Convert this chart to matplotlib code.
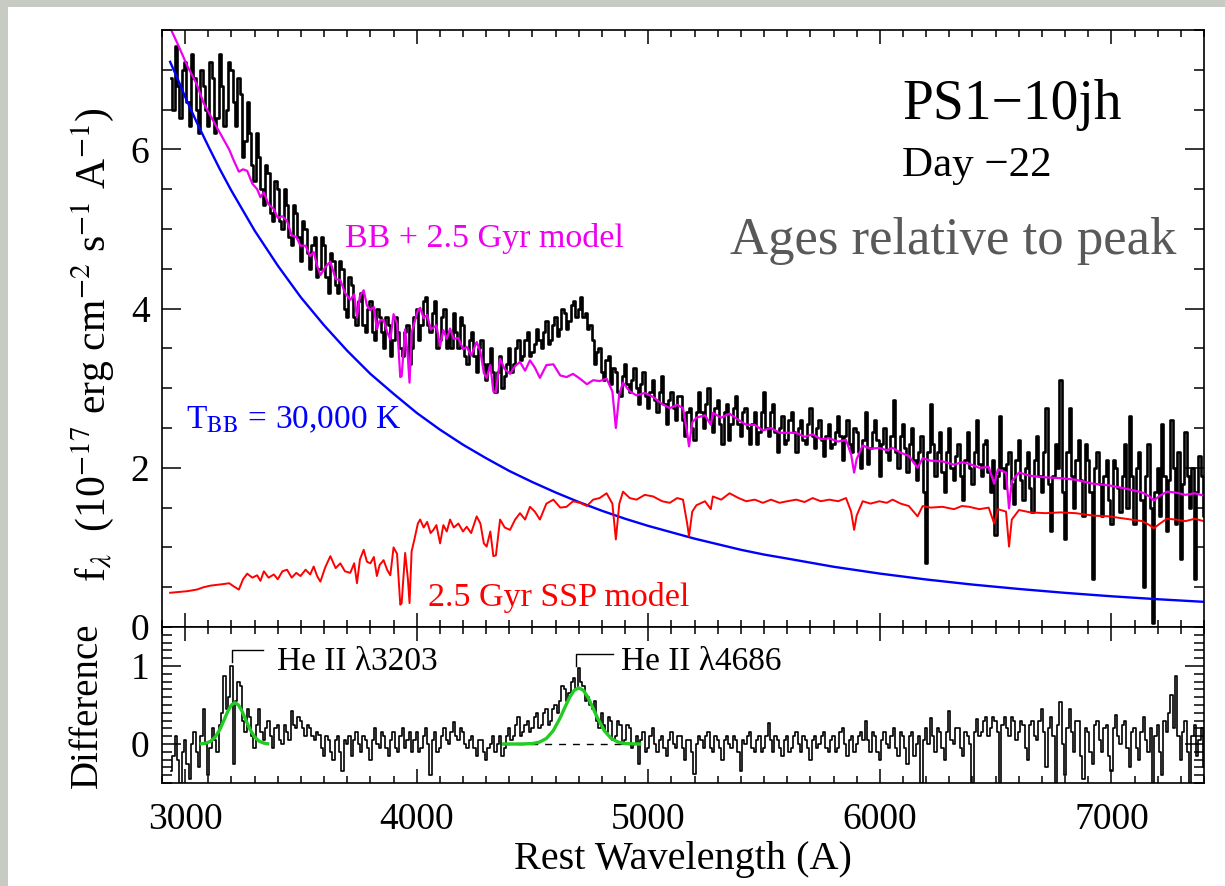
import numpy as np
import matplotlib
matplotlib.use('Agg')
import matplotlib.pyplot as plt
import matplotlib.transforms as mtransforms
from matplotlib.ticker import MultipleLocator
from matplotlib.patches import Rectangle

plt.rcParams['font.family'] = ['Liberation Serif', 'DejaVu Serif']
plt.rcParams['mathtext.fontset'] = 'stix'

# observed spectrum and difference, 10 A bins from 2940 to 7400
wave = np.arange(2940, 7401, 10)
obs_flux = [
    6.9, 6.5, 7.3, 6.8, 6.4, 7.0, 7.1, 6.6, 6.3, 7.2, 6.9, 6.5, 6.2, 7.0, 6.8, 6.5, 6.3, 7.1, 6.9, 6.2,
    6.4, 7.2, 6.8, 6.3, 6.5, 7.1, 7.0, 6.6, 6.3, 6.9, 6.7, 5.9, 6.1, 6.6, 6.2, 5.8, 5.6, 6.2, 5.9, 5.5,
    5.3, 5.8, 5.7, 5.2, 5.1, 5.6, 5.5, 5.1, 5.0, 5.5, 5.3, 4.9, 4.8, 5.3, 5.2, 4.9, 4.6, 5.1, 5.0, 4.7,
    4.5, 4.8, 4.9, 4.4, 4.5, 4.9, 4.8, 4.4, 4.2, 4.7, 4.6, 4.3, 4.2, 4.6, 4.5, 4.0, 3.9, 4.4, 4.3, 3.9,
    3.8, 4.1, 4.2, 3.8, 3.7, 4.0, 4.1, 3.7, 3.6, 4.0, 3.9, 3.7, 3.5, 3.9, 3.8, 3.4, 3.6, 3.9, 3.7, 3.5,
    3.4, 3.7, 3.8, 3.3, 3.5, 3.9, 4.0, 3.6, 3.8, 4.1, 4.15, 3.8, 3.7, 3.95, 4.1, 3.5, 3.6, 3.9, 4.0, 3.5,
    3.7, 3.5, 3.95, 3.7, 3.5, 3.9, 3.8, 3.4, 3.3, 3.6, 3.7, 3.4, 3.2, 3.5, 3.6, 3.3, 3.1, 3.3, 3.5, 3.2,
    2.95, 3.2, 3.4, 3.0, 3.15, 3.3, 3.5, 3.2, 3.3, 3.5, 3.6, 3.35, 3.4, 3.6, 3.7, 3.4, 3.45, 3.55, 3.75, 3.6,
    3.5, 3.7, 3.85, 3.55, 3.6, 3.8, 3.9, 3.65, 3.75, 4.0, 3.95, 3.75, 3.85, 4.05, 4.1, 3.9, 4.0, 4.15, 3.9, 3.95,
    3.75, 3.8, 3.6, 3.3, 3.45, 3.5, 3.2, 3.1, 3.35, 3.4, 3.05, 3.25, 3.2, 2.95, 2.9, 3.15, 3.3, 3.05, 2.95, 3.1,
    3.25, 3.0, 2.8, 3.05, 3.2, 2.9, 2.75, 2.95, 3.1, 2.85, 2.7, 2.95, 3.15, 2.8, 2.55, 2.85, 2.95, 2.75, 2.6, 2.9,
    2.9, 2.6, 2.4, 2.7, 2.75, 2.5, 2.35, 2.7, 2.95, 2.7, 2.5, 2.8, 3.0, 2.6, 2.45, 2.75, 2.85, 2.55, 2.3, 2.7,
    2.8, 2.35, 2.55, 2.75, 2.9, 2.55, 2.4, 2.7, 2.75, 2.5, 2.3, 2.55, 2.7, 2.3, 2.45, 2.7, 2.95, 2.5, 2.4, 2.7,
    2.8, 2.45, 2.2, 2.5, 2.65, 2.3, 2.35, 2.6, 2.7, 2.45, 2.2, 2.5, 2.6, 2.35, 2.3, 2.55, 2.75, 2.4, 2.25, 2.5,
    2.6, 2.35, 2.15, 2.4, 2.55, 2.25, 2.3, 2.45, 2.65, 2.4, 2.1, 2.4, 2.6, 2.3, 2.2, 2.5, 2.45, 2.2, 2.0, 2.35,
    2.7, 2.05, 2.25, 2.45, 2.6, 2.35, 1.9, 2.3, 2.5, 2.2, 2.1, 2.4, 2.85, 2.2, 2.0, 2.4, 2.55, 2.25, 1.95, 2.3,
    2.5, 2.1, 1.85, 2.2, 2.4, 1.7, 0.8, 2.2, 2.8, 2.3, 1.9, 2.2, 2.45, 1.95, 1.7, 2.2, 2.5, 2.0, 1.85, 2.15,
    2.3, 1.9, 1.6, 2.1, 2.45, 2.0, 1.8, 2.2, 2.6, 2.05, 1.9, 2.3, 2.35, 1.95, 1.7, 2.1, 1.15, 1.9, 2.65, 2.0,
    1.75, 2.05, 2.2, 1.8, 1.55, 2.1, 2.35, 1.85, 1.6, 2.0, 2.2, 1.75, 1.45, 2.1, 2.4, 1.9, 1.7, 2.2, 2.75, 1.8,
    1.2, 1.9, 2.3, 2.0, 3.1, 1.7, 1.1, 2.2, 2.75, 1.9, 1.5, 2.1, 2.35, 1.85, 1.4, 2.3, 2.1, 1.7, 0.6, 2.0,
    2.2, 1.8, 1.4, 1.9, 2.1, 1.6, 1.3, 2.1, 2.0, 1.75, 1.45, 1.9, 2.3, 1.5, 2.65, 1.9, 1.3, 2.0, 2.2, 1.6,
    0.5, 1.9, 2.3, 1.5, 0.05, 1.7, 2.0, 1.4, 2.55, 1.9, 1.2, 1.85, 2.6, 2.0, 1.3, 2.2, 0.85, 1.8, 2.45, 1.9,
    1.5, 2.0, 0.6, 1.7, 2.15, 1.9, 1.4,
]
diff_flux = [
    -0.35, -0.15, 0.10, -0.20, -0.50, -0.10, 0.05, -0.25, -0.45, 0.00, 0.15, -0.10, -0.30, 0.10, 0.45, 0.00, -0.40, -0.05, 0.20, 0.05,
    -0.10, 0.25, 0.40, 0.87, 0.45, 0.60, 1.00, -0.25, 0.55, 0.80, 0.75, 0.30, 0.15, 0.45, 0.35, 0.10, -0.05, 0.25, 0.45, 0.15,
    0.05, 0.20, 0.30, 0.10, -0.05, 0.20, 0.25, 0.05, 0.00, 0.25, 0.15, 0.05, 0.42, 0.25, 0.20, 0.35, 0.30, 0.20, 0.10, 0.25,
    0.20, 0.10, 0.05, 0.15, 0.12, -0.05, -0.15, 0.10, 0.05, -0.10, -0.20, 0.05, 0.10, -0.10, -0.35, 0.05, 0.00, 0.10, -0.15, 0.05,
    0.15, 0.00, -0.10, 0.10, 0.05, -0.05, -0.20, 0.05, 0.20, 0.00, -0.05, 0.15, 0.10, -0.05, -0.15, 0.05, 0.15, -0.05, -0.10, 0.10,
    0.20, -0.05, 0.05, 0.15, -0.10, 0.05, 0.15, -0.10, -0.05, 0.10, 0.20, 0.00, -0.40, 0.05, 0.15, -0.10, -0.05, 0.10, 0.20, 0.05,
    0.00, 0.15, 0.28, 0.10, 0.05, 0.20, 0.15, 0.00, -0.05, 0.05, 0.10, -0.05, -0.15, 0.05, 0.05, -0.10, -0.20, -0.05, 0.00, 0.10,
    -0.10, 0.00, 0.10, -0.15, -0.05, 0.10, 0.20, 0.05, 0.10, 0.25, 0.35, 0.10, 0.15, 0.25, 0.30, 0.15, 0.20, 0.35, 0.40, 0.20,
    0.25, 0.40, 0.45, 0.25, 0.30, 0.45, 0.50, 0.40, 0.55, 0.75, 0.70, 0.55, 0.65, 0.80, 0.85, 0.70, 0.97, 0.80, 0.75, 0.55,
    0.60, 0.50, 0.45, 0.55, 0.30, 0.20, 0.40, 0.25, 0.15, 0.35, 0.30, 0.05, 0.10, 0.30, 0.25, 0.00, 0.05, 0.25, 0.20, -0.05,
    0.00, 0.10, -0.25, 0.05, 0.15, -0.10, -0.05, 0.10, 0.20, 0.00, -0.10, 0.05, 0.10, -0.05, -0.15, 0.05, 0.15, 0.00, -0.05, 0.10,
    0.10, -0.05, -0.20, 0.05, 0.05, -0.10, -0.38, 0.00, 0.10, 0.05, -0.05, 0.10, 0.15, -0.05, -0.10, 0.10, 0.05, -0.05, -0.20, 0.05,
    0.10, 0.00, -0.05, 0.10, 0.05, -0.10, -0.35, 0.05, 0.00, 0.10, 0.15, -0.05, -0.10, 0.05, 0.10, -0.10, -0.05, 0.10, 0.27, 0.05,
    -0.10, 0.10, 0.05, -0.05, -0.15, 0.05, 0.10, -0.10, -0.05, 0.10, 0.15, 0.00, -0.10, 0.10, 0.05, -0.05, -0.20, 0.05, 0.10, -0.05,
    0.00, 0.10, 0.15, -0.05, -0.10, 0.05, 0.10, -0.10, -0.05, 0.15, 0.20, 0.00, -0.15, 0.05, 0.10, -0.10, 0.00, 0.10, 0.15, 0.05,
    0.29, 0.05, -0.10, 0.15, 0.10, -0.10, -0.20, 0.05, 0.15, 0.00, -0.05, 0.10, 0.20, -0.05, -0.15, 0.15, 0.10, -0.05, -0.25, 0.10,
    0.15, -0.15, 0.00, 0.10, -0.50, 0.05, 0.20, 0.00, 0.33, 0.10, -0.10, 0.20, 0.15, -0.05, -0.20, 0.15, 0.42, 0.05, 0.00, 0.20,
    0.20, -0.05, -0.15, 0.15, 0.10, 0.00, -0.50, 0.15, 0.32, 0.10, 0.15, 0.30, 0.35, 0.10, 0.20, 0.35, 0.30, 0.15, -0.50, 0.25,
    0.35, 0.20, 0.10, 0.35, 0.30, 0.05, 0.15, 0.30, 0.25, -0.05, -0.20, 0.25, 0.30, 0.10, 0.05, 0.30, 0.45, 0.15, -0.30, 0.20,
    0.35, 0.10, -0.50, 0.25, 0.54, 0.00, -0.40, 0.20, 0.45, 0.15, -0.10, 0.30, 0.30, -0.15, -0.45, 0.20, 0.15, -0.10, -0.25, 0.25,
    0.30, 0.05, -0.10, 0.20, 0.25, -0.15, -0.35, 0.20, 0.37, 0.10, 0.00, 0.25, 0.30, -0.05, -0.30, 0.15, 0.20, -0.05, -0.20, 0.15,
    0.35, 0.05, -0.10, 0.20, -0.50, 0.10, 0.25, -0.10, -0.40, 0.30, 0.15, 0.40, 0.63, 0.20, 0.87, 0.10, -0.20, 0.15, 0.30, -0.10,
    -0.50, 0.10, 0.25, -0.15, 0.05, 0.20, -0.30,
]

# 2.5 Gyr SSP model and BB + SSP model
model_wave = [
    2935, 2970, 3009, 3050, 3080, 3110, 3140, 3167, 3190, 3210,
    3232, 3250, 3268, 3290, 3311, 3325, 3340, 3360, 3383, 3400,
    3420, 3440, 3460, 3480, 3498, 3520, 3540, 3555, 3570, 3584,
    3605, 3627, 3650, 3670, 3690, 3713, 3730, 3742, 3755, 3771,
    3785, 3800, 3815, 3828, 3840, 3857, 3872, 3886, 3900, 3915,
    3929, 3935, 3950, 3962, 3969, 3978, 3990, 4005, 4015, 4030,
    4045, 4060, 4072, 4085, 4101, 4115, 4130, 4144, 4160, 4180,
    4200, 4216, 4235, 4259, 4275, 4290, 4302, 4318, 4331, 4342,
    4360, 4380, 4403, 4425, 4446, 4468, 4489, 4510, 4532, 4560,
    4590, 4620, 4647, 4675, 4705, 4735, 4762, 4790, 4820, 4845,
    4860, 4875, 4891, 4920, 4949, 4985, 5021, 5060, 5093, 5125,
    5150, 5168, 5176, 5190, 5208, 5245, 5270, 5279, 5315, 5351,
    5390, 5423, 5460, 5495, 5530, 5567, 5600, 5639, 5675, 5710,
    5745, 5782, 5820, 5854, 5876, 5889, 5900, 5926, 5960, 5998,
    6030, 6055, 6090, 6125, 6163, 6185, 6220, 6271, 6320, 6355,
    6386, 6430, 6470, 6494, 6510, 6545, 6558, 6570, 6601, 6650,
    6716, 6780, 6846, 6920, 6989, 7060, 7133, 7165, 7183, 7210,
    7240, 7277, 7320, 7360, 7399,
]
ssp_flux = [
    0.43, 0.44, 0.45, 0.47, 0.50, 0.52, 0.53, 0.54, 0.55, 0.51,
    0.47, 0.60, 0.67, 0.62, 0.65, 0.58, 0.70, 0.62, 0.66, 0.60,
    0.70, 0.72, 0.62, 0.68, 0.64, 0.72, 0.66, 0.76, 0.64, 0.57,
    0.75, 0.89, 0.74, 0.80, 0.70, 0.68, 0.80, 0.55, 0.85, 0.97,
    0.82, 0.80, 0.88, 0.64, 0.78, 0.84, 0.72, 0.65, 1.00, 0.92,
    0.28, 0.30, 0.93, 0.60, 0.30, 0.95, 1.10, 1.30, 1.35, 1.25,
    1.32, 1.18, 1.22, 1.28, 1.05, 1.28, 1.20, 1.35, 1.25, 1.30,
    1.20, 1.26, 1.18, 1.39, 1.30, 1.05, 1.01, 1.20, 0.89, 0.90,
    1.35, 1.25, 1.22, 1.35, 1.43, 1.35, 1.51, 1.45, 1.35, 1.55,
    1.60, 1.50, 1.51, 1.58, 1.56, 1.52, 1.60, 1.62, 1.68, 1.55,
    1.10, 1.55, 1.70, 1.62, 1.60, 1.66, 1.64, 1.58, 1.56, 1.62,
    1.60, 1.30, 1.14, 1.45, 1.53, 1.58, 1.48, 1.64, 1.60, 1.68,
    1.62, 1.58, 1.60, 1.56, 1.60, 1.56, 1.58, 1.60, 1.57, 1.62,
    1.58, 1.60, 1.58, 1.62, 1.45, 1.22, 1.40, 1.58, 1.55, 1.58,
    1.56, 1.60, 1.55, 1.52, 1.39, 1.52, 1.50, 1.51, 1.48, 1.52,
    1.51, 1.48, 1.50, 1.30, 1.48, 1.45, 1.01, 1.35, 1.47, 1.44,
    1.43, 1.44, 1.43, 1.40, 1.39, 1.36, 1.33, 1.28, 1.24, 1.30,
    1.36, 1.35, 1.33, 1.36, 1.33,
]
model_flux = [
    7.53, 7.31, 7.05, 6.82, 6.58, 6.42, 6.26, 6.12, 6.00, 5.86,
    5.72, 5.75, 5.73, 5.57, 5.50, 5.40, 5.46, 5.31, 5.25, 5.14,
    5.16, 5.10, 4.92, 4.90, 4.79, 4.79, 4.66, 4.71, 4.54, 4.42,
    4.52, 4.59, 4.37, 4.36, 4.20, 4.11, 4.18, 3.89, 4.16, 4.23,
    4.04, 3.98, 4.02, 3.74, 3.85, 3.86, 3.71, 3.61, 3.93, 3.81,
    3.14, 3.15, 3.74, 3.38, 3.07, 3.70, 3.82, 3.98, 4.01, 3.88,
    3.92, 3.74, 3.76, 3.79, 3.53, 3.73, 3.62, 3.75, 3.62, 3.63,
    3.49, 3.52, 3.41, 3.58, 3.46, 3.19, 3.13, 3.29, 2.96, 2.95,
    3.37, 3.24, 3.18, 3.28, 3.33, 3.22, 3.35, 3.26, 3.13, 3.29,
    3.30, 3.16, 3.14, 3.18, 3.12, 3.05, 3.10, 3.09, 3.12, 2.96,
    2.50, 2.93, 3.07, 2.96, 2.91, 2.94, 2.89, 2.80, 2.75, 2.79,
    2.75, 2.44, 2.27, 2.57, 2.63, 2.66, 2.54, 2.69, 2.63, 2.68,
    2.60, 2.54, 2.54, 2.47, 2.50, 2.44, 2.44, 2.44, 2.39, 2.42,
    2.36, 2.37, 2.33, 2.35, 2.17, 1.94, 2.11, 2.28, 2.24, 2.25,
    2.22, 2.25, 2.19, 2.15, 2.00, 2.12, 2.09, 2.08, 2.04, 2.07,
    2.05, 2.00, 2.01, 1.80, 1.98, 1.94, 1.49, 1.83, 1.94, 1.90,
    1.88, 1.87, 1.85, 1.80, 1.78, 1.74, 1.69, 1.64, 1.59, 1.65,
    1.70, 1.69, 1.66, 1.68, 1.65,
]

# 30,000 K blackbody
bb_wave = [2935, 2970, 3000, 3050, 3100, 3150, 3200, 3300, 3400, 3500,
           3600, 3700, 3800, 3900, 4000, 4100, 4200, 4300, 4400, 4500,
           4600, 4700, 4800, 4900, 5000, 5100, 5200, 5300, 5400, 5500,
           5600, 5800, 6000, 6200, 6400, 6600, 6800, 7000, 7200, 7400]
bb_flux = [7.10, 6.87, 6.66, 6.34, 6.04, 5.75, 5.48, 4.98, 4.54, 4.14,
           3.79, 3.47, 3.18, 2.93, 2.69, 2.48, 2.29, 2.12, 1.96, 1.82,
           1.69, 1.57, 1.46, 1.36, 1.27, 1.19, 1.11, 1.04, 0.97, 0.91,
           0.86, 0.757, 0.671, 0.597, 0.533, 0.478, 0.429, 0.386, 0.349, 0.316]

# gaussian fits to the He II lines
fit1_wave = [3070, 3090, 3110, 3130, 3150, 3170, 3185, 3200, 3215, 3230,
             3245, 3260, 3280, 3300, 3320, 3340, 3356]
fit1_flux = [0.003, 0.011, 0.035, 0.089, 0.187, 0.32, 0.425, 0.50, 0.53, 0.50,
             0.425, 0.32, 0.187, 0.089, 0.035, 0.011, 0.004]
fit2_wave = [4375, 4420, 4460, 4500, 4530, 4560, 4590, 4620, 4640, 4660,
             4680, 4700, 4720, 4740, 4760, 4780, 4810, 4840, 4870, 4900,
             4940, 4963]
fit2_flux = [0.0, 0.0, 0.001, 0.006, 0.024, 0.071, 0.172, 0.338, 0.47, 0.596,
             0.687, 0.72, 0.687, 0.596, 0.47, 0.338, 0.172, 0.071, 0.024, 0.006,
             0.001, 0.0]

W, H = 1225, 886
fig = plt.figure(figsize=(W / 100, H / 100), dpi=100)
fig.patch.set_facecolor('#c8cbc4')
fig.add_artist(Rectangle((8 / W, 0), 1, 1 - 7 / H, transform=fig.transFigure,
                         facecolor='white', edgecolor='none', zorder=-10))

ax1 = fig.add_axes([162 / W, 1 - 627 / H, 1042 / W, 597 / H])
ax2 = fig.add_axes([162 / W, 1 - 783 / H, 1042 / W, 156 / H])

MAG = '#ee00ee'
BLUE = '#0000ff'
RED = '#ff0000'

ax1.plot(wave, obs_flux, color='black', lw=1.9, drawstyle='steps-mid')
ax1.plot(model_wave, model_flux, color=MAG, lw=1.6)
ax1.plot(bb_wave, bb_flux, color=BLUE, lw=1.7)
ax1.plot(model_wave, ssp_flux, color=RED, lw=1.4)

ax1.text(3692, 4.77, 'BB + 2.5 Gyr model', color=MAG, fontsize=24.5)
ax1.text(3002, 2.50, r'T$_{\rm BB}$ = 30,000 K', color=BLUE, fontsize=24)
ax1.text(4050, 0.26, '2.5 Gyr SSP model', color=RED, fontsize=24.5)
ax1.text(6097, 6.38, 'PS1\u221210jh', fontsize=40)
ax1.text(6097, 5.67, 'Day \u221222', fontsize=31)
ax1.text(5351, 4.69, 'Ages relative to peak', color='#595959', fontsize=38)

ax2.plot(wave, diff_flux, color='black', lw=1.2, drawstyle='steps-mid')
ax2.plot([4373, 4963], [0, 0], color='black', lw=1.0, ls=(0, (5, 5)))
ax2.plot(fit1_wave, fit1_flux, color='#22cc22', lw=2.4)
ax2.plot(fit2_wave, fit2_flux, color='#22cc22', lw=2.4)

# line markers
ax2.plot([3203, 3203, 3338], [1.05, 1.20, 1.20], color='black', lw=1.0)
ax2.plot([4686, 4686, 4846], [1.00, 1.15, 1.15], color='black', lw=1.0)
ax2.text(3397, 0.95, 'He II \u03bb3203', fontsize=24)
ax2.text(4881, 0.95, 'He II \u03bb4686', fontsize=24)

for ax in (ax1, ax2):
    ax.set_xlim(2900, 7400)
    ax.xaxis.set_major_locator(MultipleLocator(1000))
    ax.xaxis.set_minor_locator(MultipleLocator(100))
    ax.tick_params(which='both', direction='in', top=True, right=True,
                   width=1.1, labelsize=27)
    ax.tick_params(axis='x', which='major', length=10, pad=14)
    ax.tick_params(axis='x', which='minor', length=5)
    ax.tick_params(axis='y', which='major', length=14, pad=9)
    ax.tick_params(axis='y', which='minor', length=7)
    for s in ax.spines.values():
        s.set_linewidth(1.2)

ax1.set_ylim(0, 7.5)
ax1.yaxis.set_major_locator(MultipleLocator(2))
ax1.yaxis.set_minor_locator(MultipleLocator(0.5))
ax1.tick_params(axis='x', labelbottom=False)

ax2.set_ylim(-0.5, 1.5)
ax2.yaxis.set_major_locator(MultipleLocator(1))
ax2.yaxis.set_minor_locator(MultipleLocator(0.1))

# lift the "0" of the upper panel a little off the panel boundary
lbl0 = ax1.yaxis.get_major_ticks()[0].label1
lbl0.set_transform(lbl0.get_transform()
                   + mtransforms.ScaledTranslation(0, 0.08, fig.dpi_scale_trans))

fig.text(93 / W, 1 - 345 / H,
         r'f$_\lambda$  (10$^{-17}$ erg cm$^{-2}$ s$^{-1}$ A$^{-1}$)',
         rotation=90, ha='center', va='center', fontsize=30)
fig.text(87 / W, 1 - 705 / H, 'Difference', rotation=90,
         ha='center', va='center', fontsize=28)
fig.text(683 / W, 1 - 860 / H, 'Rest Wavelength (A)',
         ha='center', va='center', fontsize=29)

fig.savefig('out.png', dpi=100, facecolor=fig.get_facecolor())
